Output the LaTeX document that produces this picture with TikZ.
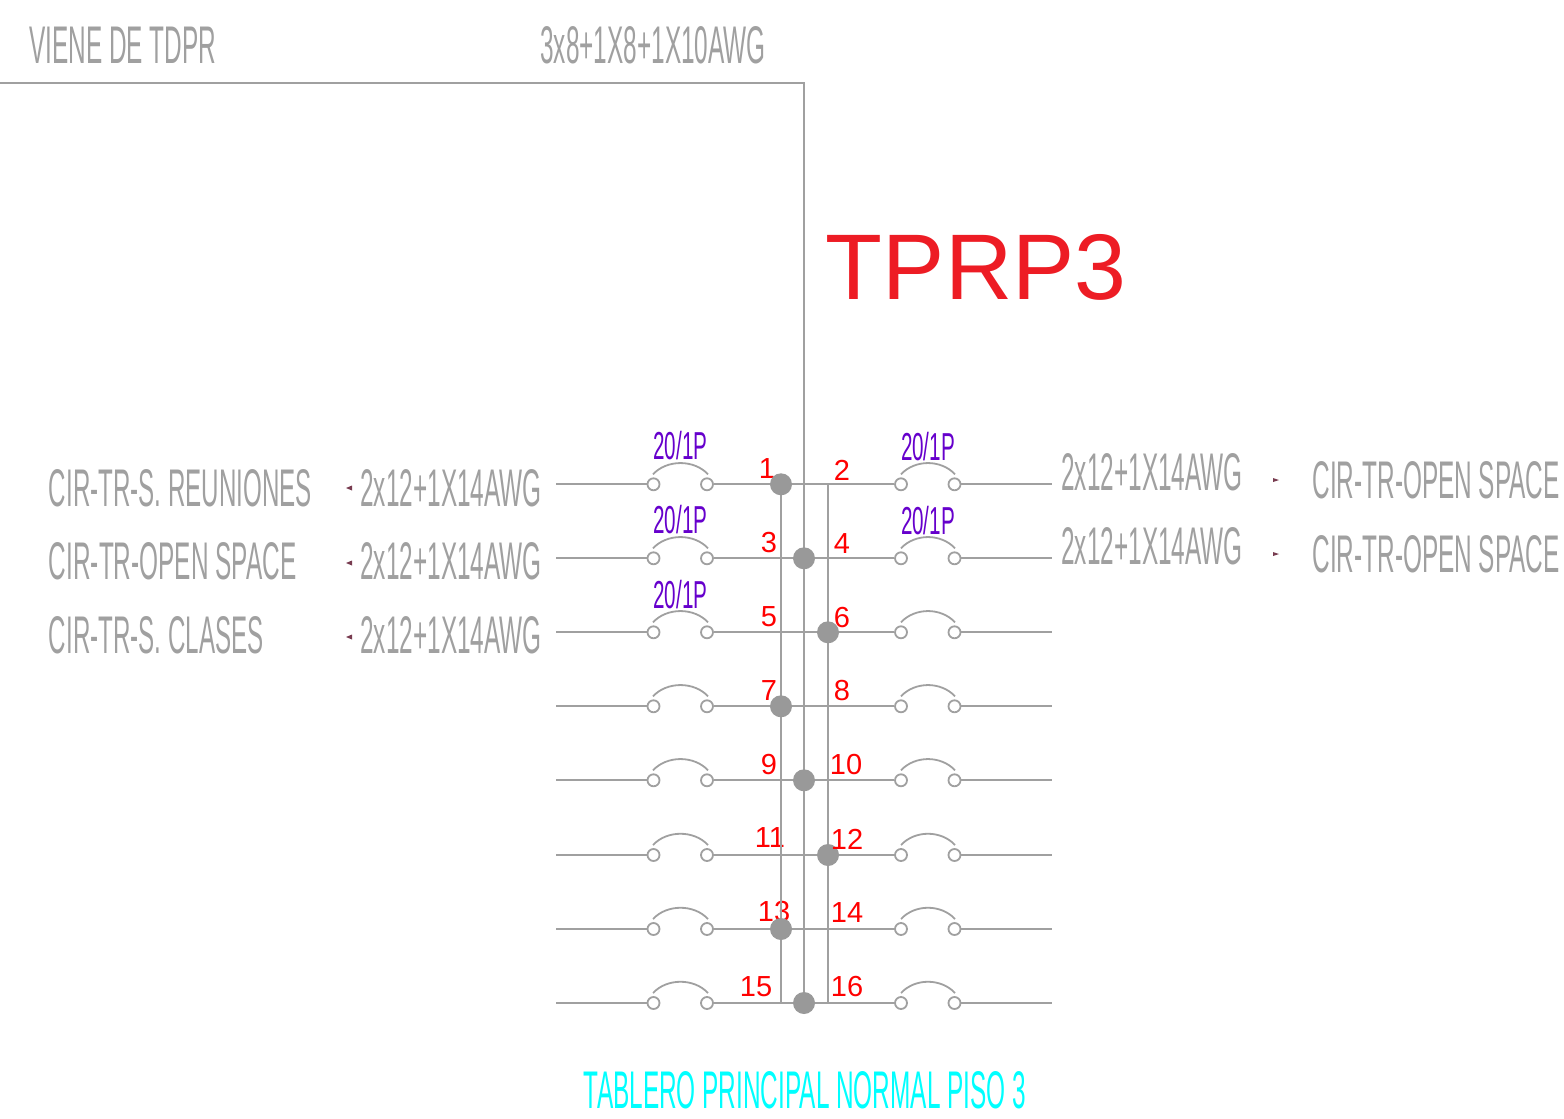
\documentclass[tikz,border=0pt]{standalone}
\usepackage{fontspec}
\setmainfont{Liberation Sans}
\newfontfamily\cadfont[FakeStretch=0.46]{Liberation Sans}
\newfontfamily\ratefont[FakeStretch=0.53]{Liberation Sans}
\definecolor{cadgray}{RGB}{160,160,160}
\definecolor{dotgray}{RGB}{153,153,153}
\definecolor{breakerviolet}{RGB}{102,0,204}
\definecolor{titlered}{RGB}{237,28,36}
\definecolor{tickred}{RGB}{120,60,80}
\definecolor{captioncyan}{RGB}{0,255,255}
\tikzset{
  wire/.style={draw=cadgray,line width=1.1pt},
  contact/.style={circle,draw=cadgray,line width=.9pt,fill=white,minimum size=6pt,inner sep=0pt},
  junction/.style={circle,fill=dotgray,minimum size=11pt,inner sep=0pt},
  cadtext/.style={anchor=base west,inner sep=0pt,text=cadgray,font=\cadfont\fontsize{26.5}{26.5}\selectfont},
  ratetext/.style={inner sep=0pt,text=breakerviolet,font=\ratefont\fontsize{19.5}{19.5}\selectfont},
  circnum/.style={inner sep=0pt,text=red,font=\fontsize{14.5}{14.5}\selectfont},
}
\begin{document}
\begin{tikzpicture}[x=0.5pt,y=-0.5pt]
        \useasboundingbox (0,0) rectangle (1564,1119);
        % header
        \draw (29,63) node[cadtext] (origin) {VIENE DE TDPR};
        \draw (540,63) node[cadtext] (feeder) {3x8+1X8+1X10AWG};
        \draw (825.5,299) node[anchor=base west,inner sep=0pt,text=titlered,font=\fontsize{46.6}{46.6}\selectfont] (panel) {TPRP3};
        \draw (805,1108) node[anchor=base,inner sep=0pt,text=captioncyan,font=\cadfont\fontsize{26.5}{26.5}\selectfont] (caption) {TABLERO PRINCIPAL NORMAL PISO 3};
        % left side circuits
        \foreach \y/\k/\s/\t in {506/488/.99/CIR-TR-S. REUNIONES,579/563/1/CIR-TR-OPEN SPACE,653/637/.99/CIR-TR-S. CLASES} {
          \draw (48.5,\y) node[cadtext,xscale=\s] (name\y) {\t};
          \draw (360,\y) node[cadtext] (cable\y) {2x12+1X14AWG};
          \fill[tickred] (352,\k-2.5) -- (346,\k) -- (352,\k+2.5) -- cycle;
        }
        % right side circuits
        \foreach \y in {498,572} {
          \draw (1312,\y) node[cadtext] (name\y) {CIR-TR-OPEN SPACE};
          \draw (1061,\y-8) node[cadtext] (cable\y) {2x12+1X14AWG};
          \fill[tickred] (1273,\y-20) -- (1279,\y-18) -- (1273,\y-16) -- cycle;
        }
        % breaker ratings
        \foreach \x/\y [count=\n] in {680.5/446,680.5/520,680.5/595,928/447,928/521}
          \draw (\x,\y) node[ratetext] (rate\n) {20/1P};
        % numbers on the left
        \foreach \x/\y/\t in {767/469/1,769/543/3,769/617/5,769/691/7,769/765/9,770/838/11,774/912/13,756/987/15}
          \draw (\x,\y) node[circnum] (num\t) {\t};
        % rows
        \foreach \y/\b [count=\n] in {484.3/781,558.3/804,632.3/828,706.3/781,780.3/804,855/828,929/781,1003/804} {
          \coordinate (in\n) at (556,\y);
          \coordinate (out\n) at (1052,\y);
          \node[contact] (la\n) at (653.5,\y) {};
          \node[contact] (lb\n) at (707,\y) {};
          \node[contact] (ra\n) at (901,\y) {};
          \node[contact] (rb\n) at (954.5,\y) {};
          \draw[wire] (in\n) -- (la\n);
          \draw[wire] (lb\n) -- (ra\n);
          \draw[wire] (rb\n) -- (out\n);
          \draw[wire,line width=.9pt] (653,\y-10) .. controls (667,\y-25) and (694,\y-25) .. (708,\y-10);
          \draw[wire,line width=.9pt] (901,\y-10) .. controls (915,\y-25) and (941,\y-25) .. (955,\y-10);
          \coordinate (hit\n) at (\b,\y);
        }
        % bus bars
        \coordinate (feedstart) at (0,83);
        \coordinate (feedcorner) at (804,83);
        \coordinate (busatop) at (781,484);
        \coordinate (busaend) at (781,1003);
        \coordinate (busctop) at (828,484);
        \coordinate (buscend) at (828,1003);
        \draw[wire] (feedstart) -- (feedcorner) -- (hit8);
        \draw[wire] (busatop) -- (busaend);
        \draw[wire] (busctop) -- (buscend);
        \foreach \n in {1,...,8}
          \node[junction] (dot\n) at (hit\n) {};
        % numbers on the right
        \foreach \x/\y/\t in {842/470/2,842/544/4,842/618/6,842/691/8,846/765/10,847/839/12,847/913/14,847/987/16}
          \draw (\x,\y) node[circnum] (num\t) {\t};
\end{tikzpicture}
\end{document}
